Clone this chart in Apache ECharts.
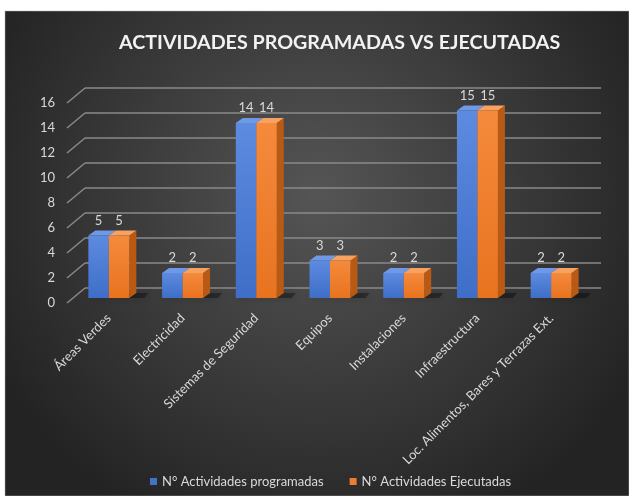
<!DOCTYPE html>
<html>
<head>
<meta charset="utf-8">
<script src="https://cdn.jsdelivr.net/npm/echarts@6/dist/echarts.min.js"></script>
<style>
  html, body { margin: 0; padding: 0; background: #fff; }
  #chart { width: 629px; height: 496px; }
</style>
</head>
<body>
<div id="chart"></div>
<script>
// data
var categories = ['Áreas Verdes', 'Electricidad', 'Sistemas de Seguridad', 'Equipos',
                  'Instalaciones', 'Infraestructura', 'Loc. Alimentos, Bares y Terrazas Ext.'];
var programadas = [5, 2, 14, 3, 2, 15, 2];
var ejecutadas = [5, 2, 14, 3, 2, 15, 2];
var yTicks = [0, 2, 4, 6, 8, 10, 12, 14, 16];
var seriesNames = ['N° Actividades programadas', 'N° Actividades Ejecutadas'];

var FONT = 'Lato, "Open Sans", sans-serif';
var DX = 7, DY = 5;   // depth of the fake 3d boxes

var faces = [
  { front: ['#5d8be0', '#3f6ec8'], side: '#2c58a8', top: '#6f98e6' },
  { front: ['#f58a3c', '#e8731f'], side: '#b95a14', top: '#f7a260' }
];

function barItem(s) {
  return function (params, api) {
    var i = api.value(0);
    var v = api.value(1);
    var top = api.coord([i, v]);
    var base = api.coord([i, 0]);
    var band = api.size([1, 0])[0];
    var w = band * 0.278;
    var x0 = top[0] - w + s * w;
    var x1 = x0 + w;
    var y0 = top[1], y1 = base[1];
    var f = faces[s];
    var kids = [];
    if (s === 0) {
      // soft floor shadow under the pair
      kids.push({
        type: 'polygon',
        shape: { points: [[x0, y1], [x1 + w + DX + 8, y1], [x1 + w + DX + 12, y1 - DY], [x0 + DX, y1 - DY]] },
        style: { fill: 'rgba(0,0,0,0.35)', shadowBlur: 8, shadowColor: 'rgba(0,0,0,0.6)' },
        z2: 0
      });
    }
    kids.push({
      type: 'polygon',
      shape: { points: [[x1, y0], [x1 + DX, y0 - DY], [x1 + DX, y1 - DY], [x1, y1]] },
      style: { fill: f.side }, z2: 1
    });
    kids.push({
      type: 'polygon',
      shape: { points: [[x0, y0], [x0 + DX, y0 - DY], [x1 + DX, y0 - DY], [x1, y0]] },
      style: { fill: f.top }, z2: 1
    });
    kids.push({
      type: 'rect',
      shape: { x: x0, y: y0, width: w, height: y1 - y0 },
      style: {
        fill: new echarts.graphic.LinearGradient(0, 0, 0, 1, [
          { offset: 0, color: f.front[0] }, { offset: 1, color: f.front[1] }
        ])
      },
      z2: 2
    });
    kids.push({
      type: 'text',
      style: {
        x: (x0 + x1) / 2, y: y0 - 15, text: String(v), fill: '#d9d9d9',
        font: '13px ' + FONT, align: 'center', verticalAlign: 'middle'
      },
      z2: 3
    });
    return { type: 'group', children: kids };
  };
}

var chart = echarts.init(document.getElementById('chart'));
chart.setOption({
  backgroundColor: '#ffffff',
  animation: false,
  graphic: {
    elements: [{
      type: 'rect', z: -100, silent: true,
      shape: { x: 5, y: 11, width: 624, height: 485 },
      style: {
        fill: new echarts.graphic.RadialGradient(0.5, 0.38, 0.75, [
          { offset: 0, color: '#555555' }, { offset: 1, color: '#232323' }
        ]),
        stroke: '#b0b0b0', lineWidth: 0.5
      }
    }]
  },
  title: {
    text: 'ACTIVIDADES PROGRAMADAS VS EJECUTADAS',
    left: 114, top: 28,
    textStyle: { color: '#f2f2f2', fontSize: 19.7, fontWeight: 'bold', fontFamily: FONT }
  },
  legend: {
    left: 145, top: 470,
    icon: 'rect', itemWidth: 7, itemHeight: 7, itemGap: 26,
    textStyle: { color: '#d9d9d9', fontSize: 13, fontFamily: FONT },
    data: seriesNames
  },
  grid: [
    { left: 85, right: 28, top: 88, bottom: 208 },   // back wall
    { left: 72, right: 41, top: 98, bottom: 198 },   // bars
    { left: 67, right: 41, top: 103, bottom: 193 }   // tick labels + diagonals
  ],
  xAxis: [
    { gridIndex: 0, type: 'value', min: 0, max: 1, show: false },
    {
      gridIndex: 1, type: 'category', data: categories,
      axisLine: { show: false }, axisTick: { show: false },
      axisLabel: { rotate: 45, margin: 18, color: '#d9d9d9', fontSize: 13, fontFamily: FONT, interval: 0 }
    },
    { gridIndex: 2, type: 'value', min: 0, max: 1, show: false }
  ],
  yAxis: [
    {
      gridIndex: 0, type: 'value', min: 0, max: 16, interval: 2,
      axisLabel: { show: false }, axisLine: { show: false }, axisTick: { show: false },
      splitLine: { lineStyle: { color: '#8a8a8a', width: 1.5 } }
    },
    { gridIndex: 1, type: 'value', min: 0, max: 16, interval: 2, show: false },
    {
      gridIndex: 2, type: 'value', min: 0, max: 16, interval: 2,
      axisLine: { show: false }, axisTick: { show: false }, splitLine: { show: false },
      axisLabel: { margin: 12, color: '#d9d9d9', fontSize: 13, fontFamily: FONT }
    }
  ],
  series: [
    {
      type: 'custom', name: 'diagonals', xAxisIndex: 2, yAxisIndex: 2, silent: true,
      data: yTicks.map(function (t) { return [0, t]; }),
      renderItem: function (params, api) {
        var p = api.coord([0, api.value(1)]);
        return {
          type: 'line',
          shape: { x1: p[0], y1: p[1], x2: p[0] + 18, y2: p[1] - 15 },
          style: { stroke: '#8a8a8a', lineWidth: 1.5 }
        };
      }
    },
    {
      type: 'custom', name: seriesNames[0], xAxisIndex: 1, yAxisIndex: 1,
      itemStyle: { color: '#4472c4' },
      data: programadas.map(function (v, i) { return [i, v]; }),
      renderItem: barItem(0)
    },
    {
      type: 'custom', name: seriesNames[1], xAxisIndex: 1, yAxisIndex: 1,
      itemStyle: { color: '#ed7d31' },
      data: ejecutadas.map(function (v, i) { return [i, v]; }),
      renderItem: barItem(1)
    }
  ]
});
</script>
</body>
</html>
